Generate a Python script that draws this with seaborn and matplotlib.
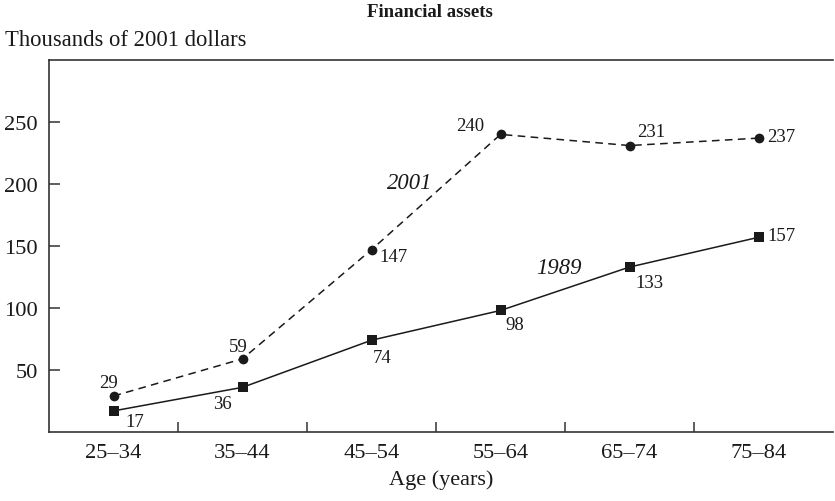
import pandas as pd
import matplotlib.pyplot as plt
import seaborn as sns

# Data
ages = ["25–34", "35–44", "45–54", "55–64", "65–74", "75–84"]
assets_2001 = [29, 59, 147, 240, 231, 237]
assets_1989 = [17, 36, 74, 98, 133, 157]

# label offsets (pixels) for each point
offsets_2001 = [(-5, 14), (-4, 12), (22, -7), (-30, 9), (22, 14), (23, 2)]
offsets_1989 = [(21, -11), (-20, -16), (11, -17), (14, -14), (20, -15), (23, 2)]

sns.set_style("white")
plt.rcParams["font.family"] = ["Liberation Serif", "DejaVu Serif"]

df = pd.DataFrame({
    "age": ages * 2,
    "value": assets_2001 + assets_1989,
    "year": ["2001"] * len(ages) + ["1989"] * len(ages),
})

fig = plt.figure(figsize=(8.35, 5.02), dpi=100)
ax = fig.add_axes([0.0587, 0.1375, 0.9393, 0.741])

ink = "#1a1a1a"
sns.lineplot(
    data=df, x="age", y="value", style="year",
    markers={"2001": "o", "1989": "s"},
    dashes={"2001": (5, 3.5), "1989": ""},
    color=ink, linewidth=1.1, markersize=7, markeredgewidth=0,
    legend=False, ax=ax,
)

for i, (v, off) in enumerate(zip(assets_2001, offsets_2001)):
    ax.annotate(str(v), (i, v), xytext=off, textcoords="offset pixels",
                ha="center", va="center", fontsize=13.5, color=ink)
for i, (v, off) in enumerate(zip(assets_1989, offsets_1989)):
    ax.annotate(str(v), (i, v), xytext=off, textcoords="offset pixels",
                ha="center", va="center", fontsize=13.5, color=ink)

# series labels
ax.text(2.3, 201, "2001", style="italic", fontsize=16.3, ha="center", va="center", color=ink)
ax.text(3.45, 133, "1989", style="italic", fontsize=16.3, ha="center", va="center", color=ink)

ax.set_xlim(-0.5, 5.58)
ax.set_ylim(0, 300)
ax.set_yticks([50, 100, 150, 200, 250])
ax.set_xticks(range(len(ages)))
ax.set_xticklabels(ages)
ax.set_xticks([0.5, 1.5, 2.5, 3.5, 4.5], minor=True)
ax.tick_params(left=True, bottom=True)
ax.tick_params(axis="x", which="major", length=0, pad=8, labelsize=16.2, colors=ink)
ax.tick_params(axis="x", which="minor", bottom=True, direction="in", length=7, width=1.1,
               color="#333333")
ax.tick_params(axis="y", direction="in", length=8, width=1.1, pad=8, labelsize=16.2,
               color="#333333", labelcolor=ink)
ax.set_xlabel("Age (years)", fontsize=16, labelpad=5, color=ink)
ax.set_ylabel("")

for side in ["left", "bottom", "top"]:
    ax.spines[side].set_linewidth(1.2)
    ax.spines[side].set_color("#333333")
ax.spines["right"].set_visible(False)

fig.text(0.515, 0.975, "Financial assets", fontsize=13.5, fontweight="bold",
         ha="center", va="center", color=ink)
fig.text(0.006, 0.919, "Thousands of 2001 dollars", fontsize=16.3,
         ha="left", va="center", color=ink)

plt.savefig("out.png", dpi=100)
